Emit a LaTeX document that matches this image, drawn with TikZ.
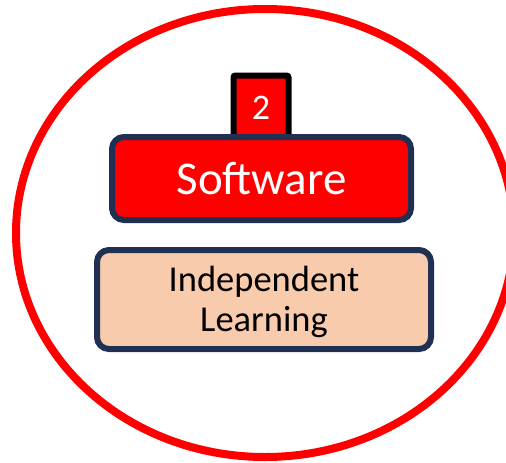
\documentclass[tikz,border=0pt]{standalone}
\usepackage{fontspec}
\setmainfont{Carlito}
\definecolor{navy}{HTML}{1F3052}
\definecolor{peach}{HTML}{F8CBAD}
\begin{document}
\begin{tikzpicture}[x=1pt, y=-1pt,
	levelbox/.style={draw=navy, line width=6pt, rounded corners=12pt, inner sep=0pt},
	numtab/.style={draw=black, fill=red, line width=6pt, rounded corners=2pt, inner sep=0pt}]
	\useasboundingbox (0,0) rectangle (506,463);
	
	% outer circle
	\draw[red, line width=8pt] (265,233) ellipse (249pt and 224pt);
	
	% number tab
	\node[numtab, anchor=north, minimum width=55pt, minimum height=65pt, text=white, font=\fontsize{36}{40}\selectfont] (num) at (261,72.5) {2};
	
	% levels
	\node[levelbox, fill=red, text=white, minimum width=299pt, minimum height=83pt, font=\fontsize{47}{56}\selectfont] (soft) at (261.5,178.5) {Software};
	\node[levelbox, fill=peach, align=center, minimum width=334pt, minimum height=99pt, font=\fontsize{36.5}{40}\selectfont] (learn) at (264,299.5) {\rule{0pt}{30pt}Independent\\Learning};
\end{tikzpicture}
\end{document}
